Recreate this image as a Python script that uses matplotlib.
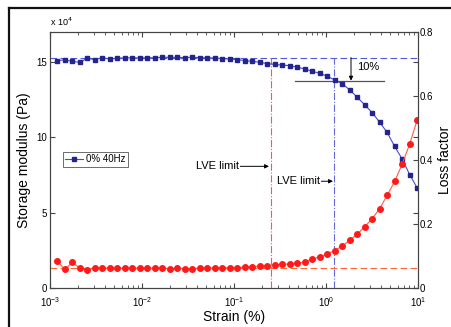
import matplotlib
matplotlib.use('Agg')
import matplotlib.pyplot as plt
from matplotlib.lines import Line2D

plt.rcParams.update({
    'font.family': ['Liberation Sans', 'DejaVu Sans'],
    'font.size': 7,
    'axes.linewidth': 0.8,
    'axes.edgecolor': '#444444',
    'xtick.direction': 'in', 'ytick.direction': 'in',
    'xtick.major.size': 3.5, 'ytick.major.size': 3.5,
    'xtick.minor.size': 2, 'ytick.minor.size': 2,
    'xtick.color': '#444444', 'ytick.color': '#444444',
    'xtick.labelcolor': 'black', 'ytick.labelcolor': 'black',
    'xtick.labelsize': 7, 'ytick.labelsize': 7,
})

# strain sweep (%)
strain = [0.00120, 0.00145, 0.00175, 0.00211, 0.00254, 0.00307, 0.00370, 0.00446,
          0.00538, 0.00649, 0.00783, 0.00945, 0.0114, 0.0138, 0.0166, 0.0200,
          0.0242, 0.0291, 0.0352, 0.0424, 0.0512, 0.0617, 0.0745, 0.0899,
          0.108, 0.131, 0.158, 0.190, 0.230, 0.277, 0.334, 0.403,
          0.486, 0.587, 0.708, 0.854, 1.03, 1.24, 1.50, 1.81,
          2.18, 2.63, 3.18, 3.83, 4.62, 5.58, 6.73, 8.12, 9.80]

# storage modulus, units of 1e4 Pa
storage_mod = [15.10, 15.15, 15.05, 14.98, 15.26, 15.16, 15.30, 15.20,
               15.26, 15.28, 15.28, 15.28, 15.28, 15.29, 15.32, 15.32,
               15.32, 15.30, 15.32, 15.30, 15.28, 15.28, 15.23, 15.21,
               15.17, 15.10, 15.05, 14.99, 14.90, 14.85, 14.80, 14.77,
               14.66, 14.55, 14.39, 14.26, 14.06, 13.82, 13.56, 13.16,
               12.67, 12.17, 11.64, 11.01, 10.33, 9.40, 8.56, 7.53, 6.64]

loss_factor = [0.084, 0.058, 0.080, 0.062, 0.057, 0.062, 0.062, 0.062,
               0.062, 0.062, 0.062, 0.062, 0.062, 0.062, 0.062, 0.060,
               0.062, 0.060, 0.060, 0.062, 0.062, 0.063, 0.063, 0.063,
               0.064, 0.065, 0.067, 0.068, 0.070, 0.072, 0.074, 0.075,
               0.077, 0.081, 0.090, 0.098, 0.106, 0.117, 0.131, 0.149,
               0.168, 0.191, 0.217, 0.248, 0.290, 0.333, 0.387, 0.450, 0.525]

g0_plateau = 15.3      # 1e4 Pa
tand_plateau = 0.062
lve_red = 0.25         # strain %
lve_blue = 1.23
drop_10 = 0.9 * g0_plateau

fig = plt.figure(figsize=(4.51, 3.27), dpi=100)
ax = fig.add_axes([50/451, 39/327, 368/451, 256/327])
ax2 = ax.twinx()

# reference lines
ax.axhline(g0_plateau, color='#5555dd', ls=(0, (6, 3)), lw=0.8)
ax2.axhline(tand_plateau, color='#ff6633', ls=(0, (6, 3)), lw=0.8)
ax.plot([lve_red, lve_red], [0, g0_plateau], color='#ff5544', ls='-.', lw=0.8)
ax.plot([lve_blue, lve_blue], [0, g0_plateau], color='#6666dd', ls='-.', lw=0.8)
ax.plot([0.46, 4.3], [drop_10, drop_10], color='#555555', lw=0.9)

ax.plot(strain, storage_mod, color='#4a4ad0', lw=0.8, marker='s', ms=3.5,
        mfc='#24248f', mec='#24248f', label='0% 40Hz')
ax2.plot(strain, loss_factor, color='#ff5a48', lw=0.8, marker='o', ms=4.0,
         mfc='#ff1a1a', mec='#ff1a1a')

# annotations
arrow = dict(arrowstyle='-|>', color='black', lw=0.7, mutation_scale=6,
             shrinkA=0, shrinkB=0)
ax.annotate('', xy=(1.87, drop_10), xytext=(1.87, g0_plateau), arrowprops=arrow)
ax.text(2.2, 14.65, '10%', fontsize=8, va='center', ha='left')
ax.annotate('', xy=(0.24, 8.08), xytext=(0.117, 8.08), arrowprops=arrow)
ax.text(0.113, 8.08, 'LVE limit', fontsize=8, va='center', ha='right')
ax.annotate('', xy=(1.19, 7.09), xytext=(0.89, 7.09), arrowprops=arrow)
ax.text(0.865, 7.09, 'LVE limit', fontsize=8, va='center', ha='right')

ax.set_xscale('log')
ax.set_xlim(1e-3, 10)
ax.set_ylim(0, 17)
ax.set_yticks([0, 5, 10, 15])
ax.set_yticklabels(['0', '5', '10', '15'])
ax2.set_ylim(0, 0.8)
ax2.set_yticks([0, 0.2, 0.4, 0.6, 0.8])
ax2.set_yticklabels(['0', '0.2', '0.4', '0.6', '0.8'])
ax.tick_params(axis='x', which='both', top=True)
ax.tick_params(axis='y', which='both', right=True)
ax.tick_params(axis='y', pad=2)
ax2.tick_params(axis='y', pad=1)
ax.tick_params(axis='x', pad=5)

ax.text(0.0, 1.015, r'x 10$^4$', transform=ax.transAxes, fontsize=6.5,
        ha='left', va='bottom')

ax.set_xlabel('Strain (%)', fontsize=10, labelpad=1)
ax.set_ylabel('Storage modulus (Pa)', fontsize=10, labelpad=4)
ax2.set_ylabel('Loss factor', fontsize=10, labelpad=4)

leg = ax.legend(loc='upper left', bbox_to_anchor=(0.035, 0.531), borderaxespad=0,
                fontsize=7, frameon=True, fancybox=False, handlelength=1.8,
                handletextpad=0.3, borderpad=0.25, framealpha=1)
leg.get_frame().set_edgecolor('#555555')
leg.get_frame().set_linewidth(0.6)

# outer frame lines
fig.add_artist(Line2D([8.5/451, 1], [1 - 8/327, 1 - 8/327], color='#111111', lw=1.6))
fig.add_artist(Line2D([8.5/451, 8.5/451], [0, 1 - 8/327], color='#111111', lw=1.6))

fig.savefig('out.png', dpi=100)
